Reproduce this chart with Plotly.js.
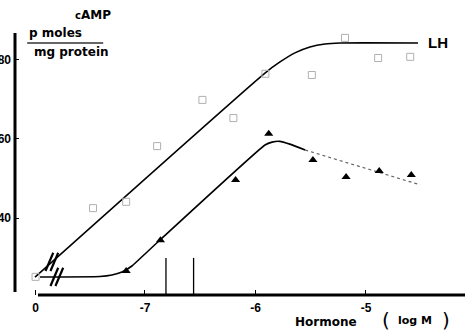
<!DOCTYPE html>
<html>
<head>
<meta charset="utf-8">
<script src="https://cdn.plot.ly/plotly-3.0.1.min.js"></script>
<style>html,body{margin:0;padding:0;background:#fff;}#chart{width:466px;height:335px;}</style>
</head>
<body>
<div id="chart"></div>
<script>
// LH data (open squares), x in log M (control "0" placed at -7.99)
const lhX = [-7.99, -7.47, -7.17, -6.89, -6.48, -6.20, -5.91, -5.49, -5.19, -4.89, -4.60];
const lhY = [25.1, 42.5, 44.1, 58.2, 69.9, 65.3, 76.5, 76.2, 85.6, 80.5, 80.8];
// second hormone (filled triangles)
const trX = [-7.17, -6.86, -6.18, -5.88, -5.48, -5.18, -4.88, -4.59];
const trY = [26.6, 34.4, 49.6, 61.3, 54.7, 50.4, 51.9, 50.9];
// fitted curves
const lhFitX = [-7.995, -5.914, -5.778, -5.643, -5.507, -5.371, -5.235, -4.529];
const lhFitY = [25.06, 76.7, 79.5, 81.8, 83.3, 84.05, 84.3, 84.3];
const lowFitX = [-7.95, -7.407, -7.299, -7.208, -7.118, -7.0, -6.864, -5.914, -5.85, -5.78, -5.69, -5.55];
const lowFitY = [25.06, 25.19, 25.57, 26.33, 27.85, 30.89, 34.43, 58.48, 59.2, 59.4, 58.7, 57.2];
const lowTailX = [-5.55, -4.51];
const lowTailY = [57.2, 48.4];
// vertical indicator lines
const indX = [-6.81, -6.56];
const indY = [20.5, 29.9];
// axis break marks (pairs of slashes)
const brkX = [-7.865, -7.82, -7.82, -7.775, -7.885, -7.84];
const brkY = [28.9, 28.9, 25.1, 25.1, 20.5, 20.5];
// ticks
const xTickVals = [-7.99, -7, -6, -5];
const xTickText = ["0", "-7", "-6", "-5"];
const yTickVals = [40, 60, 80];
const yTickText = ["40", "60", "80"];

const F = "DejaVu Sans, sans-serif";
const FT = "Liberation Sans, Arial, sans-serif";
const bold = function (s) { return '<b>' + s + '</b>'; };
const traces = [
  {x: lhFitX, y: lhFitY, mode: 'lines', line: {color: '#000', width: 1.6, shape: 'spline', smoothing: 0.5}, hoverinfo: 'skip'},
  {x: lowFitX, y: lowFitY, mode: 'lines', line: {color: '#000', width: 1.6, shape: 'spline', smoothing: 0.4}, hoverinfo: 'skip'},
  {x: lowTailX, y: lowTailY, mode: 'lines', line: {color: '#666', width: 1.2, dash: 'dot'}, hoverinfo: 'skip'},
  {x: lhX, y: lhY, mode: 'markers', marker: {symbol: 'square-open', size: 7, color: '#b0b0b0', line: {width: 1, color: '#b0b0b0'}}},
  {x: trX, y: trY, mode: 'markers', marker: {symbol: 'triangle-up', size: 8, color: '#000'}},
  {x: brkX, y: brkY, mode: 'markers', marker: {symbol: 'line-ne', size: 14, angle: -22, color: '#000', line: {width: 2.2, color: '#000'}}, cliponaxis: false}
];
indX.forEach(function (xv) {
  traces.push({x: [xv, xv], y: indY, mode: 'lines', line: {color: '#000', width: 1.3}, hoverinfo: 'skip'});
});

function ann(x, y, text, size, family) {
  return {xref: 'paper', yref: 'paper', x: x, y: y, xanchor: 'center', yanchor: 'middle', text: text,
    showarrow: false, font: {family: family || F, size: size, color: '#000'}};
}
const annotations = [
  ann(0.173, 1.057, bold("<span style='font-size:10px'>c</span>AMP"), 12),
  ann(0.090, 0.989, bold("p moles"), 12),
  ann(0.126, 0.917, bold("mg protein"), 12),
  ann(0.94, 0.951, bold("LH"), 15, FT),
  ann(0.691, -0.102, bold("Hormone"), 12),
  ann(0.825, -0.094, "(", 20),
  ann(0.889, -0.096, bold("log M"), 11),
  ann(0.958, -0.094, ")", 20)
];

const layout = {
  width: 466, height: 335,
  margin: {l: 15, r: 1, t: 30, b: 40},
  paper_bgcolor: '#fff', plot_bgcolor: '#fff',
  showlegend: false,
  xaxis: {range: [-8.176, -4.104], showgrid: false, zeroline: false, showline: false,
    tickvals: xTickVals, ticktext: xTickText.map(bold), ticks: 'inside', ticklen: 5, tickwidth: 1, tickcolor: '#000',
    ticklabelstandoff: 4,
    tickfont: {family: FT, size: 12, color: '#000'}},
  yaxis: {range: [20.51, 87.59], showgrid: false, zeroline: false, showline: false,
    tickvals: yTickVals, ticktext: yTickText.map(bold), ticks: 'inside', ticklen: 4, tickwidth: 1, tickcolor: '#000',
    ticklabelstandoff: 3,
    tickfont: {family: FT, size: 12, color: '#000'}},
  shapes: [
    {type: 'line', layer: 'below', xref: 'paper', yref: 'paper', x0: 0, x1: 0, y0: 0.011, y1: 0.989, line: {color: '#000', width: 3}},
    {type: 'line', layer: 'below', xref: 'paper', yref: 'paper', x0: 0.051, x1: 1, y0: 0, y1: 0, line: {color: '#000', width: 3}},
    {type: 'line', xref: 'paper', yref: 'paper', x0: 0.027, x1: 0.196, y0: 0.951, y1: 0.951, line: {color: '#333', width: 1.5}}
  ],
  annotations: annotations
};
Plotly.newPlot('chart', traces, layout, {staticPlot: true, displayModeBar: false});
</script>
</body>
</html>
